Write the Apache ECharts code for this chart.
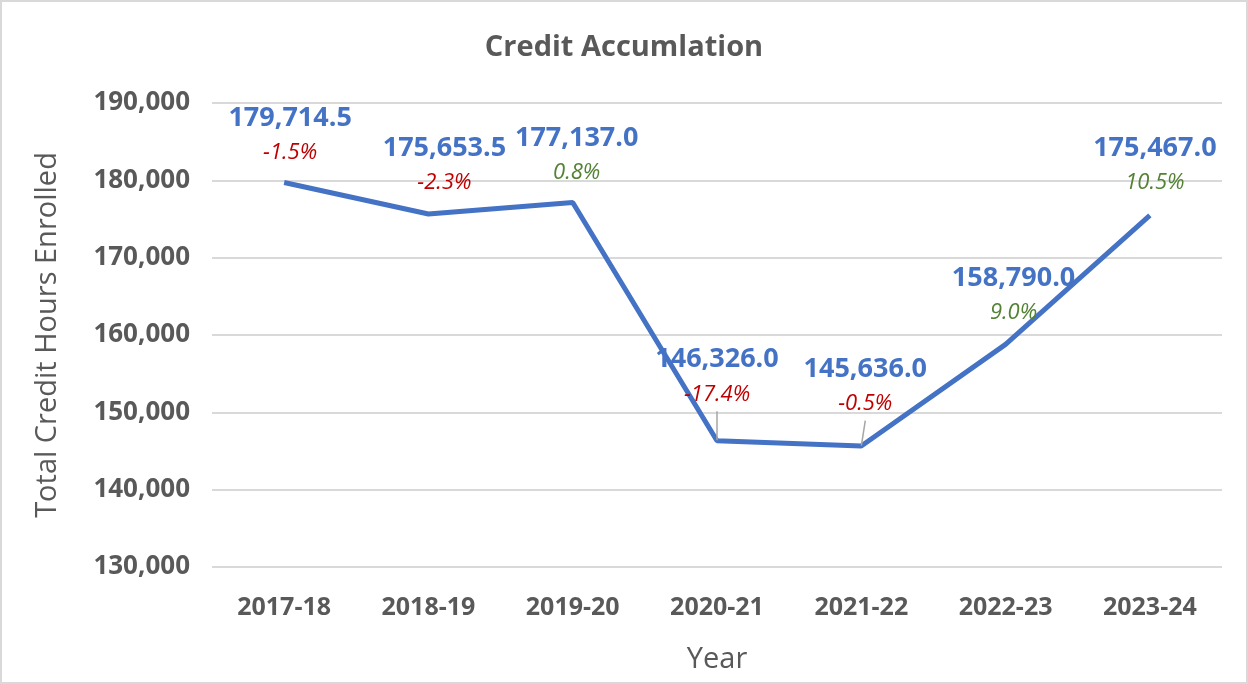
<!DOCTYPE html>
<html>
<head>
<meta charset="utf-8">
<script src="https://cdn.jsdelivr.net/npm/echarts@6/dist/echarts.min.js"></script>
<style>
  html, body { margin: 0; padding: 0; background: #fff; }
  #chart { width: 1248px; height: 684px; box-sizing: border-box; border: 2px solid #d9d9d9; }
</style>
</head>
<body>
<div id="chart"></div>
<script>
// --- data ---
const years = ['2017-18', '2018-19', '2019-20', '2020-21', '2021-22', '2022-23', '2023-24'];
const creditHours = [179714.5, 175653.5, 177137.0, 146326.0, 145636.0, 158790.0, 175467.0];
const changePct = ['-1.5%', '-2.3%', '0.8%', '-17.4%', '-0.5%', '9.0%', '10.5%'];
const yTicks = [130000, 140000, 150000, 160000, 170000, 180000, 190000];

// label nudges [dx, distance] per point, roughly where Excel put them
const labelShift = [[6, 12], [16, 14], [4, 12], [0, 29], [4, 25], [8, 14], [5, 15]];
const withLeader = [false, false, false, true, true, false, false];

const fmt = v => v.toLocaleString('en-US', { minimumFractionDigits: 1, maximumFractionDigits: 1 });

const chart = echarts.init(document.getElementById('chart'));

const seriesData = creditHours.map((v, i) => ({
  value: v,
  label: {
    distance: labelShift[i][1],
    formatter: () => `{v|${fmt(v)}}\n{${changePct[i].startsWith('-') ? 'neg' : 'pos'}|${changePct[i]}}`
  },
  labelLine: { show: withLeader[i], lineStyle: { color: '#a6a6a6', width: 1.5 } }
}));

chart.setOption({
  animation: false,
  textStyle: { fontFamily: 'Open Sans' },
  title: {
    text: 'Credit Accumlation',
    left: 'center',
    top: 26,
    textStyle: { fontSize: 29, fontWeight: 'bold', color: '#595959', fontFamily: 'Open Sans' }
  },
  grid: { left: 210, right: 24, top: 101, bottom: 115 },
  xAxis: {
    type: 'category',
    data: years,
    name: 'Year',
    nameLocation: 'middle',
    nameGap: 78,
    nameTextStyle: { fontSize: 29, color: '#595959' },
    axisLine: { show: false },
    axisTick: { show: false },
    axisLabel: { fontSize: 25, fontWeight: 'bold', color: '#595959', margin: 28 }
  },
  yAxis: {
    type: 'value',
    min: yTicks[0],
    max: yTicks[yTicks.length - 1],
    interval: 10000,
    name: 'Total Credit Hours Enrolled',
    nameLocation: 'middle',
    nameGap: 150,
    nameTextStyle: { fontSize: 29, color: '#595959' },
    axisLabel: {
      fontSize: 26, fontWeight: 'bold', color: '#595959', margin: 22,
      formatter: v => v.toLocaleString('en-US')
    },
    splitLine: { lineStyle: { color: '#d9d9d9', width: 1.8 } }
  },
  series: [{
    type: 'line',
    data: seriesData,
    symbol: 'circle',
    symbolSize: 1,
    showSymbol: true,
    itemStyle: { color: 'rgba(68,114,196,0)', borderWidth: 0 },
    lineStyle: { color: '#4472c4', width: 5 },
    labelLayout: p => ({ dx: labelShift[p.dataIndex][0], hideOverlap: false }),
    label: {
      show: true,
      position: 'top',
      align: 'center',
      lineHeight: 34,
      rich: {
        v: { fontSize: 27, fontWeight: 'bold', color: '#4472c4', lineHeight: 35 },
        neg: { fontSize: 22, fontStyle: 'italic', color: '#c00000', lineHeight: 34 },
        pos: { fontSize: 22, fontStyle: 'italic', color: '#548235', lineHeight: 34 }
      }
    }
  }]
});
</script>
</body>
</html>
